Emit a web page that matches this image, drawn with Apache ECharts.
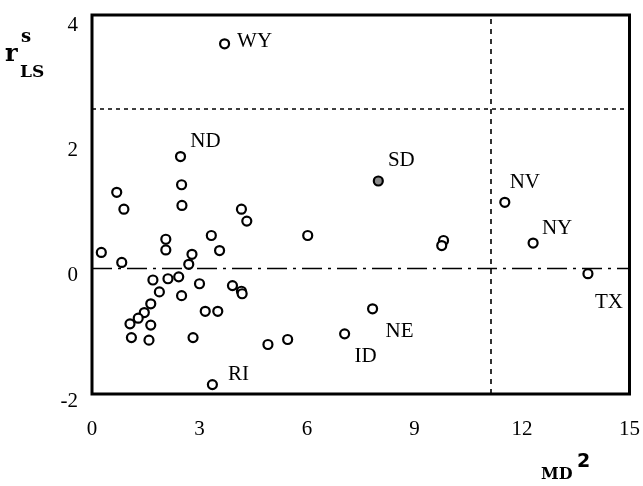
<!DOCTYPE html>
<html>
<head>
<meta charset="utf-8">
<script src="https://cdn.jsdelivr.net/npm/echarts@6/dist/echarts.min.js"></script>
<style>
  html, body { margin: 0; padding: 0; background: #fff; }
  #chart { width: 643px; height: 486px; }
</style>
</head>
<body>
<div id="chart"></div>
<script>
// MD^2 (x) and standardized LS residuals (y), one entry per state
var stateNames = ['WY', 'ND', '', '', '', '', '', '', '', '', '', '', '', '', '', '',
  'SD', 'NV', 'NY', '', '', '', '', '', '', '', '', '', '', '', '', '', '', '', '', '',
  '', '', '', '', '', '', '', 'RI', 'TX', 'NE', 'ID'];
var mdSq = [3.70, 2.47, 0.69, 2.50, 0.89, 2.51, 4.17, 4.32, 2.06, 3.33, 0.26, 2.06, 3.56, 2.79, 0.83, 2.70,
  7.99, 11.52, 12.31, 6.02, 9.81, 9.76, 1.70, 2.12, 2.42, 3.00, 3.92, 4.17, 4.19, 1.88, 2.50, 1.64, 1.46, 1.29, 1.06, 3.16,
  3.51, 1.64, 1.10, 1.59, 2.82, 4.91, 5.46, 3.36, 13.84, 7.83, 7.05];
var rls = [3.59, 1.79, 1.22, 1.34, 0.95, 1.01, 0.95, 0.76, 0.47, 0.53, 0.26, 0.30, 0.29, 0.23, 0.10, 0.07,
  1.40, 1.06, 0.41, 0.53, 0.45, 0.37, -0.18, -0.16, -0.13, -0.24, -0.27, -0.36, -0.40, -0.37, -0.43, -0.56, -0.70, -0.79, -0.88, -0.68,
  -0.68, -0.90, -1.10, -1.14, -1.10, -1.21, -1.13, -1.85, -0.08, -0.64, -1.04];

// cutoff lines
var residCut = 2.56;
var distCut = 11.14;

var xTicks = [0, 3, 6, 9, 12, 15];
var yTicks = [-2, 0, 2, 4];

// where each state name sits relative to its point (px)
var labelOffset = {
  WY: [30, -2], ND: [25, -15], SD: [23, -21], NV: [20, -20], NY: [24, -15],
  TX: [21, 29], NE: [27, 23], ID: [21, 23], RI: [26, -10]
};

var serif = '"Liberation Serif", "Times New Roman", serif';

var points = mdSq.map(function (x, i) {
  var nm = stateNames[i];
  var item = { value: [x, rls[i]], name: nm };
  if (nm) {
    item.label = { show: true, position: 'inside', offset: labelOffset[nm], formatter: nm };
  }
  if (nm === 'SD') {
    item.itemStyle = { color: '#8a8a8a' };
  }
  return item;
});

var chart = echarts.init(document.getElementById('chart'));
chart.setOption({
  animation: false,
  backgroundColor: '#fff',
  grid: {
    left: 92, right: 12, top: 15, bottom: 92,
    show: true, borderColor: '#000', borderWidth: 3
  },
  xAxis: {
    type: 'value',
    min: xTicks[0], max: xTicks[xTicks.length - 1], interval: 3,
    axisLine: { show: false },
    axisTick: { show: false },
    splitLine: { show: false },
    axisLabel: { color: '#000', fontFamily: serif, fontSize: 21, margin: 25 }
  },
  yAxis: {
    type: 'value',
    min: yTicks[0], max: 4.05, interval: 2,
    axisLine: { show: false },
    axisTick: { show: false },
    splitLine: { show: false },
    axisLabel: {
      color: '#000', fontFamily: serif, fontSize: 21, margin: 14,
      verticalAlign: 'top', lineHeight: 14,
      formatter: function (v) { return yTicks.indexOf(v) >= 0 ? String(v) : ''; }
    }
  },
  series: [{
    type: 'scatter',
    symbol: 'circle',
    symbolSize: 9,
    itemStyle: { color: '#fff', borderColor: '#000', borderWidth: 2.2, opacity: 1 },
    label: { color: '#000', fontFamily: serif, fontSize: 21 },
    emphasis: { disabled: true },
    data: points,
    markLine: {
      silent: true,
      symbol: 'none',
      label: { show: false },
      data: [
        { yAxis: 0, lineStyle: { color: '#000', width: 1.3, type: [20, 6, 3, 6] } },
        { yAxis: residCut, lineStyle: { color: '#000', width: 1.6, type: [4, 4] } },
        { xAxis: distCut, lineStyle: { color: '#000', width: 1.6, type: [5, 5] } }
      ]
    }
  }],
  graphic: [
    // y axis title r^s_LS
    { type: 'text', left: 5, top: 43, style: { text: 'r', font: 'bold 24px "DejaVu Serif", serif', fill: '#000' } },
    { type: 'text', left: 21, top: 28, style: { text: 's', font: 'bold 18px "DejaVu Serif", serif', fill: '#000' } },
    { type: 'text', left: 20, top: 64, style: { text: 'LS', font: 'bold 17px "DejaVu Serif", serif', fill: '#000' } },
    // x axis title MD^2
    { type: 'text', left: 541, top: 467, style: { text: 'MD', font: 'bold 16px "DejaVu Serif", serif', fill: '#000' } },
    { type: 'text', left: 577, top: 453, style: { text: '2', font: 'bold 19px "DejaVu Sans", sans-serif', fill: '#000' } }
  ]
});
</script>
</body>
</html>
